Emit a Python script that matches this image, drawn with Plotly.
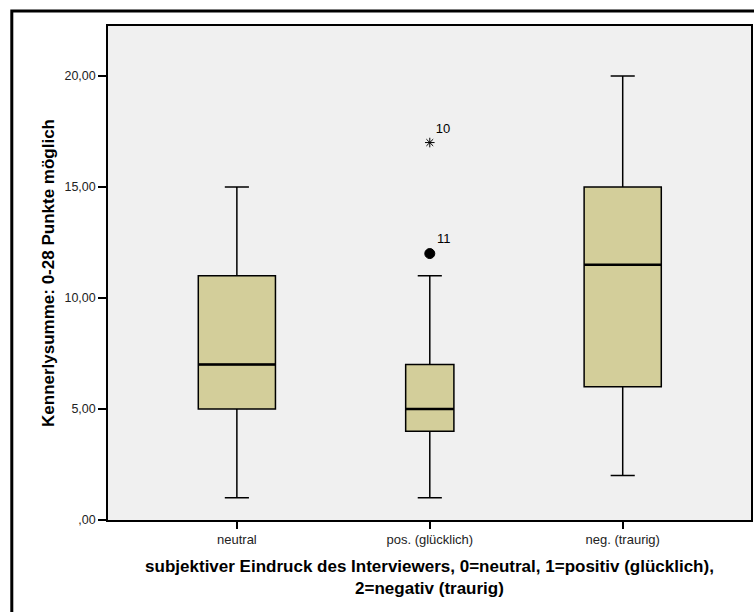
import plotly.graph_objects as go

categories = ["neutral", "pos. (glücklich)", "neg. (traurig)"]
lower_whisker = [1, 1, 2]
q1 = [5, 4, 6]
median = [7, 5, 11.5]
q3 = [11, 7, 15]
upper_whisker = [15, 11, 20]

outlier_cat = ["pos. (glücklich)", "pos. (glücklich)"]
outlier_val = [17, 12]
outlier_label = ["10", "11"]
outlier_symbol = ["asterisk-open", "circle"]

y_tickvals = [0, 5, 10, 15, 20]
y_ticktext = [",00", "5,00", "10,00", "15,00", "20,00"]

FONT = "Liberation Sans, Arial, sans-serif"
BOX_WIDTHS = [0.40, 0.25, 0.40]
CAP_W = 0.125

fig = go.Figure()
for i, cat in enumerate(categories):
    w = BOX_WIDTHS[i]
    fig.add_trace(go.Box(
        x=[cat], q1=[q1[i]], median=[median[i]], q3=[q3[i]],
        lowerfence=[lower_whisker[i]], upperfence=[upper_whisker[i]],
        width=w, whiskerwidth=CAP_W / w,
        fillcolor="#D3CE9A", line=dict(color="black", width=1.5),
        boxpoints=False, showlegend=False, hoverinfo="skip",
    ))
    # thicker median line
    fig.add_shape(type="line", xref="x", yref="y",
                  x0=i - w / 2, x1=i + w / 2, y0=median[i], y1=median[i],
                  line=dict(color="black", width=2.5))

fig.add_trace(go.Scatter(
    x=outlier_cat, y=outlier_val, mode="markers+text",
    text=outlier_label, textposition="top right",
    textfont=dict(family=FONT, size=13, color="black"),
    marker=dict(symbol=outlier_symbol, size=[8, 10], color="black",
                opacity=1, line=dict(color="black", width=1)),
    showlegend=False, cliponaxis=False,
))

# outer frame
fig.add_shape(type="rect", xref="paper", yref="paper",
              x0=(11.5 - 108) / 645, x1=1.2, y0=-0.5, y1=(520 - 11) / 494,
              line=dict(color="black", width=3), layer="above")

fig.update_layout(
    width=754, height=612,
    margin=dict(l=108, r=1, t=26, b=92),
    paper_bgcolor="white", plot_bgcolor="#F0F0F0",
    font=dict(family=FONT, color="black"),
    xaxis=dict(
        type="category", range=[-0.668, 2.665],
        showline=True, linecolor="black", linewidth=1.5, mirror=True,
        ticks="outside", ticklen=7, tickcolor="black", tickwidth=1.5,
        showgrid=False, zeroline=False,
        tickfont=dict(size=13, color="#222"),
        title=dict(text="<b>subjektiver Eindruck des Interviewers, 0=neutral, 1=positiv (glücklich),<br>2=negativ (traurig)</b>",
                   font=dict(size=17, color="black"), standoff=14),
    ),
    yaxis=dict(
        range=[0, 22.25], tickvals=y_tickvals, ticktext=y_ticktext,
        showline=True, linecolor="black", linewidth=1.5, mirror=True,
        ticks="outside", ticklen=8, tickcolor="black", tickwidth=1.5,
        showgrid=False, zeroline=False,
        tickfont=dict(size=12.5, color="#222"),
        title=dict(text="<b>Kennerlysumme: 0-28 Punkte möglich</b>",
                   font=dict(size=17, color="black"), standoff=6),
    ),
)

fig.write_html("out.html")
